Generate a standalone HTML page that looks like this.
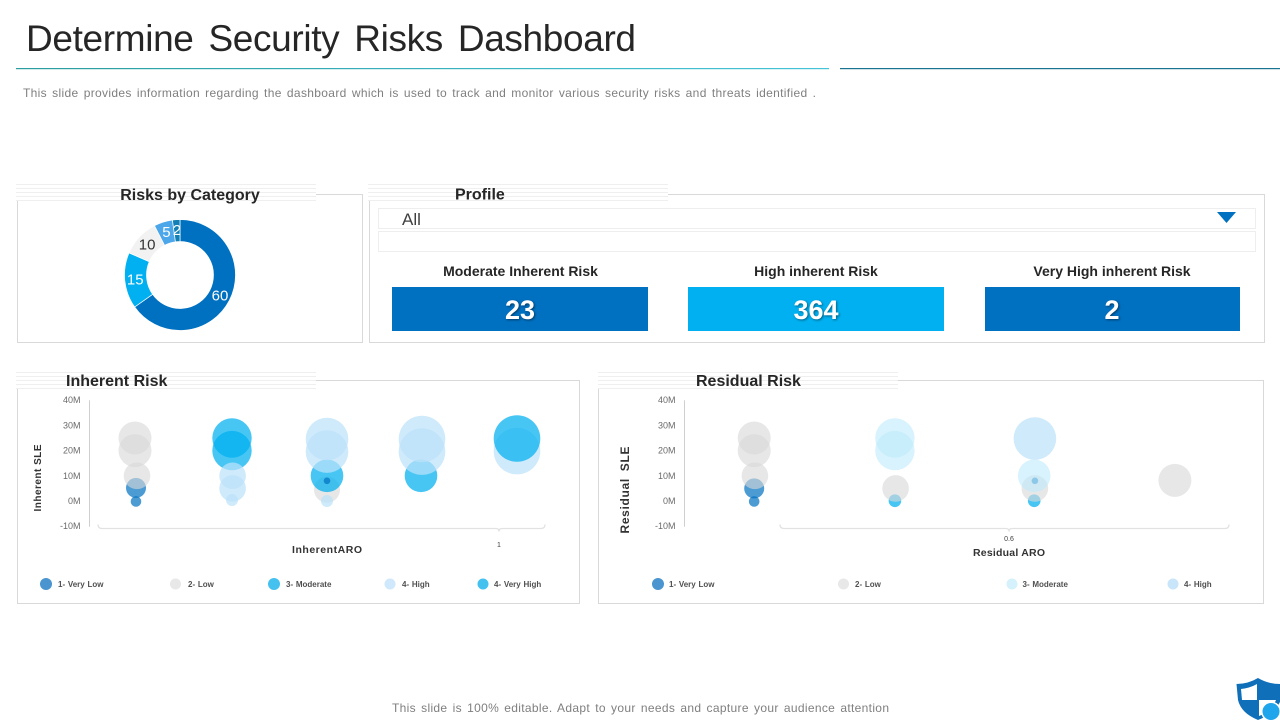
<!DOCTYPE html>
<html lang="en">
<head>
<meta charset="utf-8">
<title>Determine Security Risks Dashboard</title>
<style>
html,body{margin:0;padding:0;background:#fff;width:1280px;height:720px;overflow:hidden}
svg{display:block;font-family:"Liberation Sans",Arial,sans-serif}
.head{font-size:16px;font-weight:bold;fill:#262626}
.kpil{font-size:14px;font-weight:bold;fill:#262626;text-anchor:middle}
.kpin{font-size:27px;font-weight:bold;fill:#fff;text-anchor:middle;filter:drop-shadow(1px 1px 1px rgba(0,0,0,.45))}
.leg{font-size:8px;font-weight:bold;fill:#505050;word-spacing:.5px}
.tick{font-size:9px;fill:#6a6a6a}
.panel{fill:#fff;stroke:#d9d9d9;stroke-width:1}
</style>
</head>
<body>
<svg id="page" width="1280" height="720" viewBox="0 0 1280 720">
<defs>
<pattern id="stripes" width="8" height="4" patternUnits="userSpaceOnUse"><rect width="8" height="4" fill="#fff"/><rect width="8" height="1" fill="#efefef"/></pattern>
<linearGradient id="lineL" x1="0" x2="1" y1="0" y2="0"><stop offset="0" stop-color="#2a9d9f"/><stop offset="1" stop-color="#45c4d8"/></linearGradient>
</defs>

<text x="26" y="51" font-size="37" fill="#262626" word-spacing="5" textLength="610">Determine Security Risks Dashboard</text>
<rect x="16" y="68" width="813" height="1.2" fill="url(#lineL)"/>
<rect x="840" y="68" width="440" height="1.2" fill="#17738f"/>
<text x="23" y="97" font-size="12" fill="#7f7f7f" word-spacing="1.5" textLength="793">This slide provides information regarding the dashboard which is used to track and monitor various security risks and threats identified .</text>

<rect class="panel" x="17.5" y="194.5" width="345" height="148"/>
<rect class="panel" x="369.5" y="194.5" width="895" height="148"/>
<rect class="panel" x="17.5" y="380.5" width="562" height="223"/>
<rect class="panel" x="598.5" y="380.5" width="665" height="223"/>

<g transform="translate(16,184)"><rect width="300" height="17" fill="url(#stripes)"/></g>
<g transform="translate(368,184)"><rect width="300" height="17" fill="url(#stripes)"/></g>
<g transform="translate(16,372)"><rect width="300" height="17" fill="url(#stripes)"/></g>
<g transform="translate(598,372)"><rect width="300" height="17" fill="url(#stripes)"/></g>

<text class="head" x="190" y="200" text-anchor="middle">Risks by Category</text>
<text class="head" x="455" y="199.500">Profile</text>
<text class="head" x="66" y="386">Inherent Risk</text>
<text class="head" x="696" y="386">Residual Risk</text>

<g id="donut"></g>

<g>
<rect x="378.500" y="208.500" width="877" height="20" fill="#fff" stroke="#eeeeee"/>
<text x="402" y="225" font-size="17" fill="#404040">All</text>
<polygon points="1217,212 1236,212 1226.500,223" fill="#0070c0"/>
</g>
<rect x="378.500" y="231.500" width="877" height="20" fill="#fff" stroke="#eeeeee"/>

<text class="kpil" x="520.500" y="276">Moderate Inherent Risk</text>
<rect x="392" y="287" width="256" height="44" fill="#0070c0"/>
<text class="kpin" x="520" y="319">23</text>
<text class="kpil" x="816" y="276">High inherent Risk</text>
<rect x="688" y="287" width="256" height="44" fill="#00b0f0"/>
<text class="kpin" x="816" y="319">364</text>
<text class="kpil" x="1112" y="276">Very High inherent Risk</text>
<rect x="985" y="287" width="255" height="44" fill="#0070c0"/>
<text class="kpin" x="1112" y="319">2</text>

<g id="inherent"></g>
<g id="residual"></g>

<text transform="translate(41,478) rotate(-90)" font-size="10" font-weight="bold" fill="#333" text-anchor="middle" textLength="67">Inherent SLE</text>
<text x="327" y="553" font-size="10.500" font-weight="bold" fill="#333" text-anchor="middle" textLength="70">InherentARO</text>
<text transform="translate(629,490) rotate(-90)" font-size="12" font-weight="bold" fill="#333" word-spacing="3" text-anchor="middle" textLength="87">Residual SLE</text>
<text x="1009" y="556" font-size="10.500" font-weight="bold" fill="#333" text-anchor="middle" textLength="72">Residual ARO</text>

<g>
<g><circle cx="46" cy="584" r="6" fill="#4a94cf"/><text class="leg" x="58" y="587">1- Very Low</text></g>
<g><circle cx="175.500" cy="584" r="5.500" fill="#e8e8e8"/><text class="leg" x="188" y="587">2- Low</text></g>
<g><circle cx="274" cy="584" r="6" fill="#45c1f0"/><text class="leg" x="286" y="587">3- Moderate</text></g>
<g><circle cx="390" cy="584" r="5.500" fill="#cfe8fb"/><text class="leg" x="402" y="587">4- High</text></g>
<g><circle cx="483" cy="584" r="5.500" fill="#45c1f0"/><text class="leg" x="494" y="587">4- Very High</text></g>
</g>
<g>
<g><circle cx="658" cy="584" r="6" fill="#4a94cf"/><text class="leg" x="669" y="587">1- Very Low</text></g>
<g><circle cx="843.500" cy="584" r="5.500" fill="#e8e8e8"/><text class="leg" x="855" y="587">2- Low</text></g>
<g><circle cx="1012" cy="584" r="5.500" fill="#d5f1fc"/><text class="leg" x="1022.500" y="587">3- Moderate</text></g>
<g><circle cx="1173" cy="584" r="5.500" fill="#c9e5f9"/><text class="leg" x="1184" y="587">4- High</text></g>
</g>

<text x="392" y="712" font-size="12" fill="#7f7f7f" word-spacing="1.5" textLength="497">This slide is 100% editable. Adapt to your needs and capture your audience attention</text>

<g>
<path d="M1236.500,684 Q1248,684 1258,678 Q1268,684 1280,684 L1280,702 Q1274,714 1258,720 Q1241,713 1238,700 Z" fill="#0f6fb8"/>
<path d="M1241,689 Q1250,688 1257,684 V700 H1242 Z" fill="#fff"/>
<path d="M1259,700 H1276 Q1272,711 1259,716 Z" fill="#fff"/>
<circle cx="1271" cy="711.500" r="10" fill="#fff"/>
<circle cx="1271" cy="711.500" r="8.500" fill="#1ea5ec"/>
</g>
</svg>

<script>
// Donut data
const donutValues = [60, 15, 10, 5, 2];
const donutCategories = ['Category A', 'Category B', 'Category C', 'Category D', 'Category E'];

// Shared value-axis ticks (millions)
const sleTicks = [40, 30, 20, 10, 0, -10];

// Inherent risk bubbles
const inherentLevel = ['veryLow','veryLow','low','low','low','low','moderate','moderate','moderate','moderate','veryLow','high','high','high','high','high','high','high','high','high','veryHigh'];
const inherentAro = [0.0925,0.0925,0.09,0.09,0.095,0.57,0.3325,0.3325,0.57,0.805,0.57,0.334,0.334,0.3325,0.57,0.57,0.57,0.8075,0.8075,1.045,1.045];
const inherentSle = [5.2,-0.2,25,20,10,4.5,25,20,10,10,8,10,5,0.4,24.6,19.6,0,24.6,19.6,19.8,24.8];
const inherentSize = [100,28,272,272,177,170,388,388,266,266,11,177,177,36,454,454,36,543,543,543,543];
const inherentTickValues = [1];
const inherentTickLabels = ['1'];

// Residual risk bubbles
const residualLevel = ['veryLow','veryLow','accent','accent','low','low','low','low','low','low','veryLow','moderate','moderate','moderate','high'];
const residualAro = [0.236,0.236,0.437,0.636,0.236,0.236,0.237,0.438,0.637,0.837,0.637,0.437,0.437,0.636,0.637];
const residualSle = [5,-0.2,0.1,0.1,25,20,10,5,5,8.2,8,25,20,10,24.8];
const residualSize = [100,28,40,40,272,272,177,177,177,272,11,388,388,266,454];
const residualTickValues = [0.6];
const residualTickLabels = ['0.6'];

const NS = 'http://www.w3.org/2000/svg';
const levelFill = {
  veryLow: 'rgba(0,112,192,.7)',
  low: 'rgba(217,217,217,.62)',
  moderate: 'rgba(0,176,240,.72)',
  veryHigh: 'rgba(0,176,240,.72)',
  accent: 'rgba(0,176,240,.72)',
  high: 'rgba(189,226,250,.72)',
  residualModerate: 'rgba(190,235,252,.6)'
};

function make(tag, parent, attrs) {
  const el = document.createElementNS(NS, tag);
  for (const k in attrs) el.setAttribute(k, attrs[k]);
  parent.appendChild(el);
  return el;
}

function yScale(v) { return 501 - v * 2.52; }

function drawDonut() {
  const host = document.getElementById('donut');
  const cx = 180, cy = 275, ro = 55.5, ri = 33.5, rl = 45;
  const fills = ['#0070c0', '#00b0f0', '#f2f2f2', '#4ba6ea', '#127fb5'];
  const inks = ['#fff', '#fff', '#333', '#fff', '#fff'];
  const total = donutValues.reduce((a, b) => a + b, 0);
  let acc = 0;
  donutValues.forEach((v, i) => {
    const a0 = acc / total * 2 * Math.PI;
    acc += v;
    const a1 = acc / total * 2 * Math.PI;
    const big = a1 - a0 > Math.PI ? 1 : 0;
    const p = (r, a) => (cx + r * Math.sin(a)).toFixed(2) + ' ' + (cy - r * Math.cos(a)).toFixed(2);
    const d = 'M' + p(ro, a0) + ' A' + ro + ' ' + ro + ' 0 ' + big + ' 1 ' + p(ro, a1) +
      ' L' + p(ri, a1) + ' A' + ri + ' ' + ri + ' 0 ' + big + ' 0 ' + p(ri, a0) + ' Z';
    const slice = make('path', host, { d: d, fill: fills[i], stroke: '#fff', 'stroke-width': 0.7 });
    
    
    const mid = (a0 + a1) / 2;
    const label = make('text', host, {
      x: cx + rl * Math.sin(mid), y: cy - rl * Math.cos(mid) + 5,
      'font-size': 15, fill: inks[i], 'text-anchor': 'middle'
    });
    label.textContent = v;
    
    
  });
}

function drawBubbleChart(cfg) {
  const host = document.getElementById(cfg.id);
  const xScale = cfg.xScale;
  sleTicks.forEach(t => {
    const label = make('text', host, { class: 'tick', x: cfg.yAxisX - 9, y: yScale(t) + 3, 'text-anchor': 'end' });
    label.textContent = t + 'M';
    
    
  });
  const yAxis = make('line', host, { x1: cfg.yAxisX, x2: cfg.yAxisX, y1: yScale(40), y2: yScale(-10) + 0.5, stroke: '#cfcfcf', 'stroke-width': 1 });
  
  
  const ay = 528.5;
  let path = 'M' + cfg.x0 + ' ' + (ay - 4) + ' Q' + cfg.x0 + ' ' + ay + ' ' + (cfg.x0 + 4) + ' ' + ay;
  cfg.tickValues.forEach(t => {
    const tx = xScale(t);
    path += ' L' + (tx - 3) + ' ' + ay + ' Q' + tx + ' ' + ay + ' ' + tx + ' ' + (ay + 3) +
      ' Q' + tx + ' ' + ay + ' ' + (tx + 3) + ' ' + ay;
  });
  path += ' L' + (cfg.x1 - 4) + ' ' + ay + ' Q' + cfg.x1 + ' ' + ay + ' ' + cfg.x1 + ' ' + (ay - 4);
  const xAxis = make('path', host, { d: path, fill: 'none', stroke: '#e2e2e2', 'stroke-width': 1.3 });
  
  
  cfg.tickValues.forEach((t, i) => {
    const label = make('text', host, { x: xScale(t), y: cfg.tickLabelY, 'font-size': 7, fill: '#404040', 'text-anchor': 'middle' });
    label.textContent = cfg.tickLabels[i];
    
    
  });
  cfg.aro.forEach((a, i) => {
    const level = cfg.level[i];
    const fill = (cfg.id === 'residual' && level === 'moderate') ? levelFill.residualModerate : levelFill[level];
    const bubble = make('circle', host, { cx: xScale(a), cy: yScale(cfg.sle[i]), r: Math.sqrt(cfg.size[i]), fill: fill });
    
    
  });
}

drawDonut();
drawBubbleChart({
  id: 'inherent', level: inherentLevel, aro: inherentAro, sle: inherentSle, size: inherentSize,
  tickValues: inherentTickValues, tickLabels: inherentTickLabels, tickLabelY: 547,
  yAxisX: 89.5, x0: 98, x1: 545,
  xScale: a => 99 + a * 400
});
drawBubbleChart({
  id: 'residual', level: residualLevel, aro: residualAro, sle: residualSle, size: residualSize,
  tickValues: residualTickValues, tickLabels: residualTickLabels, tickLabelY: 541,
  yAxisX: 684.5, x0: 780, x1: 1229,
  xScale: a => 589 + a * 700
});
</script>
</body>
</html>
